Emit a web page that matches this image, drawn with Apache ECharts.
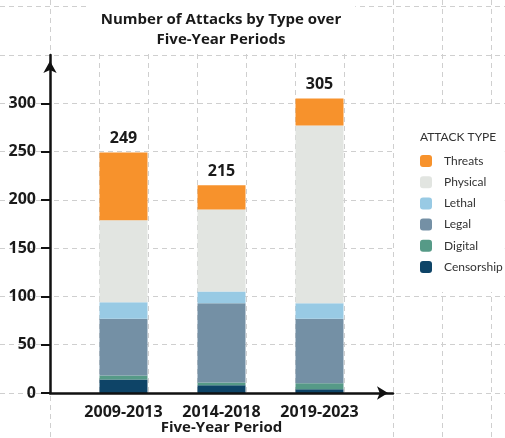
<!DOCTYPE html>
<html>
<head>
<meta charset="utf-8">
<script src="https://cdn.jsdelivr.net/npm/echarts@6/dist/echarts.min.js"></script>
<style>
  html, body { margin: 0; padding: 0; background: #fff; }
  #chart { width: 505px; height: 438px; }
</style>
</head>
<body>
<div id="chart"></div>
<script>
// values
const categories = ['2009-2013', '2014-2018', '2019-2023']
const censorship = [14, 8, 4]
const digital = [4, 3, 6]
const legal = [59, 82, 67]
const lethal = [17, 12, 16]
const physical = [85, 85, 184]
const threats = [70, 25, 28]
const yTicks = [0, 50, 100, 150, 200, 250, 300]

const colors = {
    Censorship: '#0e4467',
    Digital: '#569a87',
    Legal: '#7490a5',
    Lethal: '#98cae4',
    Physical: '#e2e5e1',
    Threats: '#f7922c'
}
const layers = [
    ['Censorship', censorship],
    ['Digital', digital],
    ['Legal', legal],
    ['Lethal', lethal],
    ['Physical', physical],
    ['Threats', threats]
]
const totals = categories.map((c, i) => layers.reduce((s, l) => s + l[1][i], 0))

// each period sits in every other slot of a 7-slot axis
const slots = ['']
categories.forEach(c => slots.push(c, ''))
const spread = arr => {
    const out = [null]
    arr.forEach(v => out.push(v, null))
    return out
}

const font = 'Open Sans'
const ink = '#1a1a1a'
const dash = { color: '#cfcfcf', width: 1, type: [5, 4] }
const hidden = { axisLine: { show: false }, axisTick: { show: false }, axisLabel: { show: false } }
const step = 338 / 7

const chart = echarts.init(document.getElementById('chart'))
chart.setOption({
    animation: false,
    title: [
        {
            text: 'Number of Attacks by Type over\nFive-Year Periods',
            left: 207,
            top: 0,
            textAlign: 'center',
            padding: [10, 14, 3, 14],
            backgroundColor: '#fff',
            textStyle: { fontFamily: font, fontSize: 15, fontWeight: 'bold', color: ink, lineHeight: 20 }
        },
        {
            text: 'ATTACK TYPE',
            left: 420,
            top: 131,
            padding: 0,
            textStyle: { fontFamily: 'Lato', fontSize: 12, fontWeight: 'normal', color: '#333' }
        }
    ],
    legend: {
        data: ['Threats', 'Physical', 'Lethal', 'Legal', 'Digital', 'Censorship'],
        orient: 'vertical',
        left: 396,
        top: 108,
        padding: [47, 2, 19, 24],
        backgroundColor: '#fff',
        icon: 'roundRect',
        itemWidth: 12,
        itemHeight: 12,
        itemGap: 9.2,
        textStyle: { fontFamily: 'Lato', fontSize: 12, color: '#333', padding: [0, 0, 0, 7] }
    },
    grid: [
        { left: 0, right: 0, top: 393 - 8 * step, bottom: 0, outerBoundsMode: 'none' },
        { left: 50, right: 0, top: 0, bottom: 0, outerBoundsMode: 'none' },
        { left: 50, width: 343, top: 55, bottom: 45, outerBoundsMode: 'none' }
    ],
    xAxis: [
        { gridIndex: 0, type: 'value', min: 0, max: 1, splitLine: { show: false }, ...hidden },
        {
            gridIndex: 1, type: 'value', min: 0, max: 455 / 49, interval: 1,
            splitLine: { show: true, lineStyle: dash }, ...hidden
        },
        {
            gridIndex: 2,
            type: 'category',
            data: slots,
            z: 5,
            name: 'Five-Year Period',
            nameLocation: 'middle',
            nameGap: 25,
            nameMoveOverlap: false,
            nameTextStyle: {
                fontFamily: font, fontSize: 15, fontWeight: 'bold', color: ink, lineHeight: 18,
                backgroundColor: '#fff', padding: [1, 100, 14, 100]
            },
            axisLine: {
                lineStyle: { color: '#111', width: 2.5 },
                symbol: ['none', 'arrow'],
                symbolSize: [10, 11],
                symbolOffset: [0, -5]
            },
            axisTick: { show: false },
            axisLabel: {
                interval: 0,
                margin: 3,
                padding: [7, 5, 0, 5],
                lineHeight: 18,
                backgroundColor: '#fff',
                fontFamily: font, fontSize: 16, fontWeight: 'bold', color: ink
            },
            splitLine: { show: false }
        }
    ],
    yAxis: [
        {
            gridIndex: 0, type: 'value', inverse: true, min: 0, max: (438 - (393 - 8 * step)) / step, interval: 1,
            splitLine: { show: true, lineStyle: dash }, ...hidden
        },
        { gridIndex: 1, type: 'value', min: 0, max: 1, splitLine: { show: false }, ...hidden },
        {
            gridIndex: 2,
            type: 'value',
            min: 0,
            max: 350,
            interval: 50,
            z: 5,
            axisLine: {
                show: true,
                lineStyle: { color: '#111', width: 2.5 },
                symbol: ['none', 'arrow'],
                symbolSize: [10, 12],
                symbolOffset: [0, -6]
            },
            axisTick: { show: true, length: 9, lineStyle: { color: '#111', width: 2 }, customValues: yTicks },
            axisLabel: {
                margin: 14,
                customValues: yTicks,
                fontFamily: font, fontSize: 16, fontWeight: 'bold', color: ink
            },
            splitLine: { show: false }
        }
    ],
    series: layers.map(([name, vals]) => ({
        name,
        type: 'bar',
        stack: 'total',
        xAxisIndex: 2,
        yAxisIndex: 2,
        barWidth: 48,
        data: spread(vals),
        itemStyle: { color: colors[name] },
        label: name === 'Threats' ? {
            show: true,
            position: 'top',
            distance: 6,
            formatter: p => totals[(p.dataIndex - 1) / 2],
            fontFamily: font, fontSize: 16, fontWeight: 'bold', color: ink
        } : { show: false }
    }))
})
</script>
</body>
</html>
